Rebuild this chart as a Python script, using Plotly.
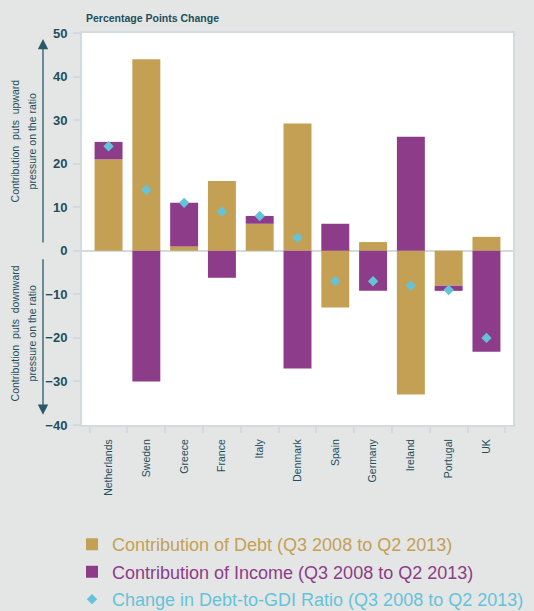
import plotly.graph_objects as go

# Contributions to the change in the debt-to-GDI ratio, Q3 2008 to Q2 2013 (percentage points)
countries = ["Netherlands", "Sweden", "Greece", "France", "Italy", "Denmark",
             "Spain", "Germany", "Ireland", "Portugal", "UK"]
debt_contrib = [21, 44, 1, 16, 6.2, 29.2, -13, 2, -33, -8, 3.2]
income_contrib = [4, -30, 10, -6.2, 1.8, -27, 6.2, -9.2, 26.2, -1.2, -23.2]
ratio_change = [24, 14, 11, 9, 8, 3, -7, -7, -8, -9, -20]

y_ticks = [-40, -30, -20, -10, 0, 10, 20, 30, 40, 50]

GOLD = "#c4a054"
PURPLE = "#8c3c88"
CYAN = "#64c3da"
TEXT = "#1d4f5c"
AXIS = "#d2dbde"
BG = "#e4e6e6"
FONT = "Liberation Sans, Arial, sans-serif"


def legend_name(label, colour):
    return f"<span style='color:{colour}'>{label}</span>"


fig = go.Figure()
fig.add_trace(go.Bar(
    x=countries, y=debt_contrib, marker_color=GOLD, marker_line_width=0,
    name=legend_name("Contribution of Debt (Q3 2008 to Q2 2013)", GOLD),
    legendgroup="debt",
))
fig.add_trace(go.Bar(
    x=countries, y=income_contrib, marker_color=PURPLE, marker_line_width=0,
    name=legend_name("Contribution of Income (Q3 2008 to Q2 2013)", PURPLE),
    legendgroup="income",
))
fig.add_trace(go.Scatter(
    x=countries, y=ratio_change, mode="markers",
    marker=dict(symbol="diamond", size=8, color=CYAN),
    name=legend_name("Change in Debt-to-GDI Ratio (Q3 2008 to Q2 2013)", CYAN),
    legendgroup="ratio",
))

fig.update_layout(
    width=534, height=611,
    margin=dict(l=82, r=21, t=33, b=186, autoexpand=False),
    paper_bgcolor=BG, plot_bgcolor="white",
    barmode="relative", bargap=0.26,
    showlegend=True,
    legend=dict(
        orientation="v", x=-0.0232, xanchor="left", y=-0.258, yanchor="top",
        traceorder="grouped", tracegroupgap=1,
        font=dict(family=FONT, size=18, color=TEXT),
        bgcolor="rgba(0,0,0,0)",
    ),
    xaxis=dict(
        type="category", tickson="boundaries",
        ticks="outside", ticklen=6, tickcolor=AXIS, tickwidth=2,
        tickangle=-90, tickfont=dict(family=FONT, size=10.5, color=TEXT),
        ticklabelstandoff=8,
        showline=True, linecolor=AXIS, linewidth=2, mirror=True,
        showgrid=False,
    ),
    yaxis=dict(
        range=[-40, 50], tickvals=y_ticks,
        ticks="outside", ticklen=7, tickcolor=AXIS, tickwidth=2,
        tickfont=dict(family=FONT, size=13, color=TEXT, weight="bold"),
        ticklabelstandoff=3,
        showline=True, linecolor=AXIS, linewidth=2, mirror=True,
        showgrid=False,
        zeroline=True, zerolinecolor=AXIS, zerolinewidth=2,
    ),
)

# chart heading
fig.add_annotation(
    text="<b>Percentage Points Change</b>", xref="paper", yref="paper",
    x=0.005, y=1.0, xanchor="left", yanchor="bottom", yshift=7,
    showarrow=False, font=dict(family=FONT, size=10.5, color=TEXT),
)

# side notes explaining the direction of each contribution
side_notes = [
    ("Contribution  puts  upward", -0.1545, 0.7245),
    ("pressure on the ratio", -0.115, 0.7245),
    ("Contribution  puts  downward", -0.1545, 0.2347),
    ("pressure on the ratio", -0.115, 0.2347),
]
for label, nx, ny in side_notes:
    fig.add_annotation(
        text=label, xref="paper", yref="paper", x=nx, y=ny,
        xanchor="center", yanchor="middle", textangle=-90,
        showarrow=False, font=dict(family=FONT, size=10.5, color=TEXT),
    )

fig.add_annotation(
    text="", xref="paper", yref="paper", x=-0.0905, y=0.985,
    ax=0, ay=205, showarrow=True, arrowhead=2, arrowsize=1.6,
    arrowwidth=1.3, arrowcolor="#2a5a66",
)
fig.add_annotation(
    text="", xref="paper", yref="paper", x=-0.0905, y=0.026,
    ax=0, ay=-157, showarrow=True, arrowhead=2, arrowsize=1.6,
    arrowwidth=1.3, arrowcolor="#2a5a66",
)

fig.write_html("out.html")
